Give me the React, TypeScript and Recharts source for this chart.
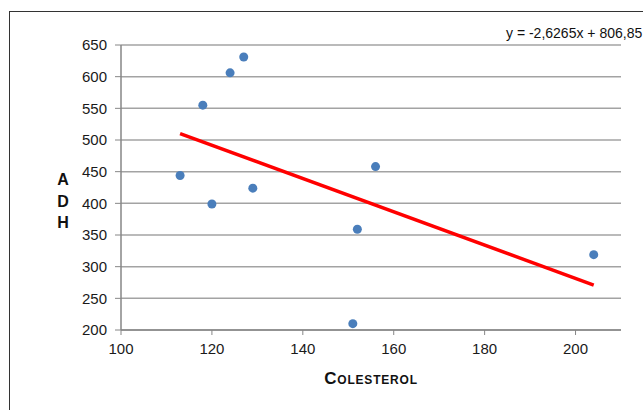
import React from "react";
import { ScatterChart, Scatter, XAxis, YAxis, CartesianGrid } from "recharts";

// readings
const colesterol = [113, 118, 124, 127, 120, 129, 151, 152, 156, 204];
const adh = [444, 555, 606, 631, 399, 424, 210, 359, 458, 319];

// end points of the linear trend line
const trendX = [113, 204];
const trendY = [510, 271];

const xTicks = [100, 120, 140, 160, 180, 200];
const yTicks = [200, 250, 300, 350, 400, 450, 500, 550, 600, 650];
const equation = "y = -2,6265x + 806,85";

const points = colesterol.map((x, i) => ({ x, y: adh[i] }));
const trend = trendX.map((x, i) => ({ x, y: trendY[i] }));

const axisGray = "#868686";
const font = "Liberation Sans, Arial, sans-serif";
const tickFont = { fontSize: 15, fill: "#1a1a1a", fontFamily: font };

function AdhLabel() {
  return (
    <text x={63} y={185} textAnchor="middle" fontFamily={font} fontWeight="bold" fontSize={16} fill="#111">
      <tspan x={63} dy={0}>A</tspan>
      <tspan x={63} dy={21.5}>D</tspan>
      <tspan x={63} dy={21.5}>H</tspan>
    </text>
  );
}

function ColesterolLabel(props: any) {
  const vb = props.viewBox || {};
  const cx = (vb.x ?? 0) + (vb.width ?? 0) / 2;
  return (
    <text
      x={cx}
      y={384}
      textAnchor="middle"
      fontFamily={font}
      fontWeight="bold"
      fontSize={17}
      letterSpacing={0.8}
      fill="#111"
      style={{ fontVariant: "small-caps" }}
    >
      Colesterol
    </text>
  );
}

export default function App() {
  return (
    <div
      style={{
        position: "absolute",
        left: 0,
        top: 0,
        width: 643,
        height: 410,
        overflow: "hidden",
        background: "#fff",
      }}
    >
      <div
        style={{
          position: "absolute",
          left: 9,
          top: 11,
          width: 700,
          height: 500,
          borderLeft: "1.5px solid #333",
          borderTop: "1.5px solid #333",
        }}
      />
      <div
        style={{
          position: "absolute",
          left: 506,
          top: 25,
          fontFamily: font,
          fontSize: 14,
          color: "#111",
          whiteSpace: "nowrap",
        }}
      >
        {equation}
      </div>
      <ScatterChart
        width={643}
        height={410}
        margin={{ top: 45, right: 22, bottom: 0, left: 0 }}
      >
        <CartesianGrid vertical={false} stroke="#a3a3a3" strokeWidth={1.5} />
        <XAxis
          type="number"
          dataKey="x"
          domain={[100, 210]}
          ticks={xTicks}
          height={80}
          axisLine={{ stroke: axisGray, strokeWidth: 1.5 }}
          tickLine={{ stroke: axisGray }}
          tickSize={5}
          tickMargin={8}
          tick={tickFont}
          label={<ColesterolLabel />}
        />
        <YAxis
          type="number"
          dataKey="y"
          domain={[200, 650]}
          ticks={yTicks}
          width={121}
          axisLine={{ stroke: axisGray, strokeWidth: 1.5 }}
          tickLine={{ stroke: axisGray }}
          tickSize={6}
          tickMargin={8}
          tick={tickFont}
          label={<AdhLabel />}
        />
        <Scatter
          data={trend}
          line={{ stroke: "#ff0000", strokeWidth: 3.5 }}
          shape={() => <g />}
          isAnimationActive={false}
        />
        <Scatter
          data={points}
          shape={(p: any) => <circle cx={p.cx} cy={p.cy} r={4.5} fill="#4a7ebb" />}
          isAnimationActive={false}
        />
      </ScatterChart>
    </div>
  );
}
